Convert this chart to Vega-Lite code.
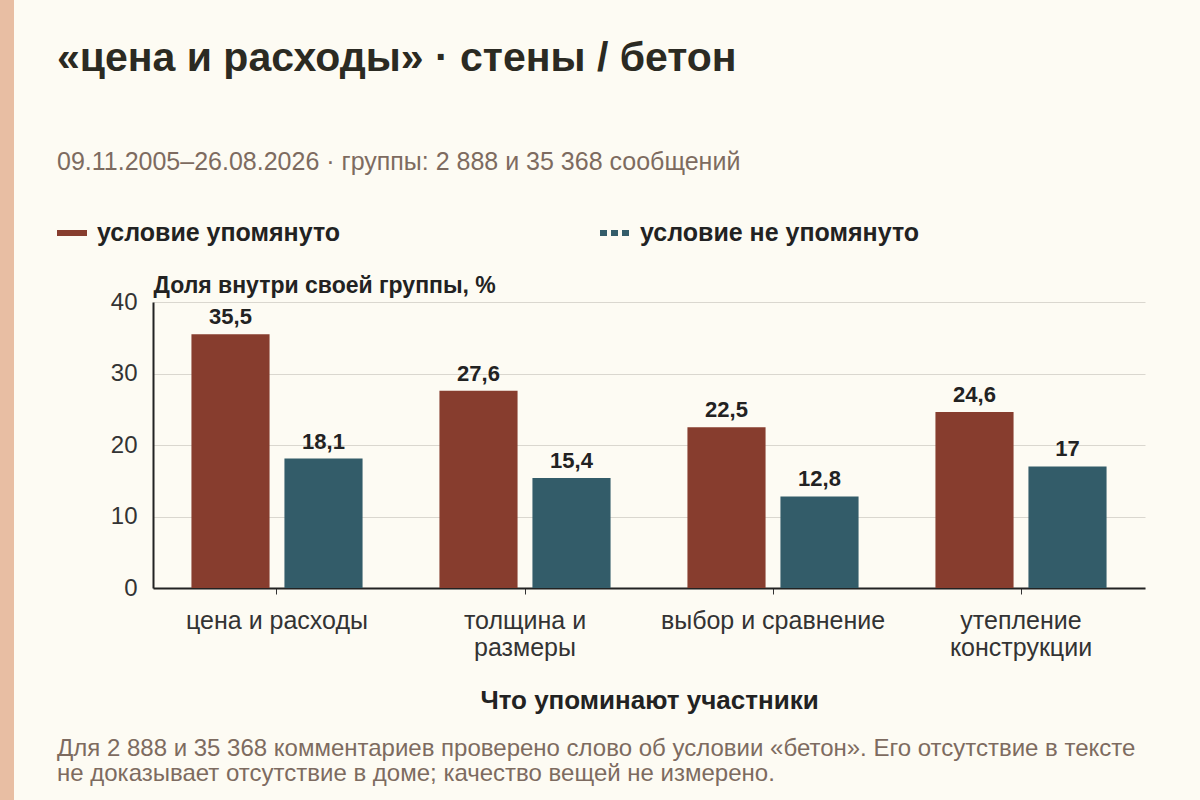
{
  "$schema": "https://vega.github.io/schema/vega-lite/v6.json",
  "background": "#FDFBF3",
  "padding": {"left": 0, "top": 0, "right": 55, "bottom": 0},
  "config": {
    "view": {"stroke": null},
    "font": "Liberation Sans",
    "locale": {
      "number": {"decimal": ",", "thousands": " ", "grouping": [3], "currency": ["", ""]}
    }
  },
  "spacing": 43,
  "hconcat": [
    {
      "width": 14,
      "height": 800,
      "view": {"fill": "#E8BEA3", "stroke": null},
      "data": {"values": [{}]},
      "mark": {"type": "point", "opacity": 0}
    },
    {
      "spacing": 99,
      "vconcat": [
        {
          "width": 992,
          "height": 10,
          "data": {"values": [{}]},
          "mark": {"type": "point", "opacity": 0},
          "title": {
            "text": "«цена и расходы» · стены / бетон",
            "subtitle": "09.11.2005–26.08.2026 · группы: 2 888 и 35 368 сообщений",
            "orient": "bottom",
            "anchor": "start",
            "frame": "group",
            "dx": -96,
            "offset": 29,
            "font": "Liberation Sans",
            "fontSize": 41,
            "fontWeight": "bold",
            "color": "#2B2A22",
            "subtitleFont": "Liberation Sans",
            "subtitleFontSize": 25,
            "subtitleColor": "#7D6B60",
            "subtitlePadding": 70
          }
        },
        {
          "width": 992,
          "height": 286,
          "title": {
            "text": [
              "Для 2 888 и 35 368 комментариев проверено слово об условии «бетон». Его отсутствие в тексте",
              "не доказывает отсутствие в доме; качество вещей не измерено."
            ],
            "orient": "bottom",
            "anchor": "start",
            "frame": "group",
            "dx": -96,
            "offset": 24,
            "font": "Liberation Sans",
            "fontSize": 24,
            "fontWeight": "normal",
            "color": "#7D6B60",
            "lineHeight": 25
          },
          "data": {
            "values": [
              {"category": "цена и расходы", "group": "условие упомянуто", "value": 35.5},
              {"category": "цена и расходы", "group": "условие не упомянуто", "value": 18.1},
              {"category": "толщина и размеры", "group": "условие упомянуто", "value": 27.6},
              {"category": "толщина и размеры", "group": "условие не упомянуто", "value": 15.4},
              {"category": "выбор и сравнение", "group": "условие упомянуто", "value": 22.5},
              {"category": "выбор и сравнение", "group": "условие не упомянуто", "value": 12.8},
              {"category": "утепление конструкции", "group": "условие упомянуто", "value": 24.6},
              {"category": "утепление конструкции", "group": "условие не упомянуто", "value": 17}
            ]
          },
          "encoding": {
            "x": {
              "field": "category",
              "type": "nominal",
              "sort": null,
              "scale": {"paddingInner": 0.31, "paddingOuter": 0.155},
              "axis": {
                "title": "Что упоминают участники",
                "titleFontSize": 26,
                "titleFontWeight": "bold",
                "titleColor": "#222222",
                "titlePadding": 27,
                "labelAngle": 0,
                "labelFontSize": 25,
                "labelColor": "#333333",
                "labelPadding": 14,
                "labelLineHeight": 27,
                "labelBaseline": "top",
                "labelLimit": 400,
                "labelExpr": "datum.label == 'толщина и размеры' ? ['толщина и', 'размеры'] : datum.label == 'утепление конструкции' ? ['утепление', 'конструкции'] : datum.label",
                "domainColor": "#222222",
                "domainWidth": 2,
                "tickColor": "#333333",
                "tickSize": 6,
                "grid": false
              }
            },
            "xOffset": {
              "field": "group",
              "type": "nominal",
              "sort": ["условие упомянуто", "условие не упомянуто"],
              "scale": {"paddingInner": 0.16, "paddingOuter": 0}
            },
            "y": {
              "field": "value",
              "type": "quantitative",
              "scale": {"domain": [0, 40]},
              "axis": {
                "title": "Доля внутри своей группы, %",
                "titleAngle": 0,
                "titleAlign": "left",
                "titleBaseline": "alphabetic",
                "titleX": 0,
                "titleY": -10,
                "titleFontSize": 23,
                "titleFontWeight": "bold",
                "titleColor": "#222222",
                "values": [0, 10, 20, 30, 40],
                "labelFontSize": 24,
                "labelColor": "#333333",
                "labelPadding": 16,
                "ticks": false,
                "domainColor": "#222222",
                "domainWidth": 2,
                "gridColor": "#DAD7CF",
                "gridWidth": 1
              }
            }
          },
          "layer": [
            {
              "mark": {"type": "bar", "strokeWidth": 0},
              "encoding": {
                "color": {
                  "field": "group",
                  "type": "nominal",
                  "scale": {
                    "domain": ["условие упомянуто", "условие не упомянуто"],
                    "range": ["#873D2E", "#335C69"]
                  },
                  "legend": {
                    "title": null,
                    "orient": "none",
                    "direction": "horizontal",
                    "legendX": 54,
                    "legendY": 215,
                    "symbolType": "stroke",
                    "symbolSize": 900,
                    "symbolStrokeWidth": 6,
                    "labelFontSize": 25,
                    "labelFontWeight": "bold",
                    "labelColor": "#222222",
                    "labelOffset": 7,
                    "labelLimit": 400,
                    "columnPadding": 247,
                    "encode": {
                      "symbols": {
                        "update": {
                          "stroke": {"scale": "color", "field": "value"},
                          "strokeDash": {"scale": "strokeDash", "field": "value"}
                        }
                      }
                    }
                  }
                },
                "strokeDash": {
                  "field": "group",
                  "type": "nominal",
                  "scale": {
                    "domain": ["условие упомянуто", "условие не упомянуто"],
                    "range": [[1, 0], [7, 4]]
                  },
                  "legend": {
                    "title": null,
                    "orient": "none",
                    "direction": "horizontal",
                    "legendX": 54,
                    "legendY": 215
                  }
                }
              }
            },
            {
              "mark": {
                "type": "text",
                "baseline": "alphabetic",
                "dy": -10,
                "fontSize": 22,
                "fontWeight": "bold",
                "color": "#222222"
              },
              "encoding": {
                "text": {"field": "value", "type": "quantitative", "format": ".1~f"}
              }
            }
          ]
        }
      ]
    }
  ]
}
